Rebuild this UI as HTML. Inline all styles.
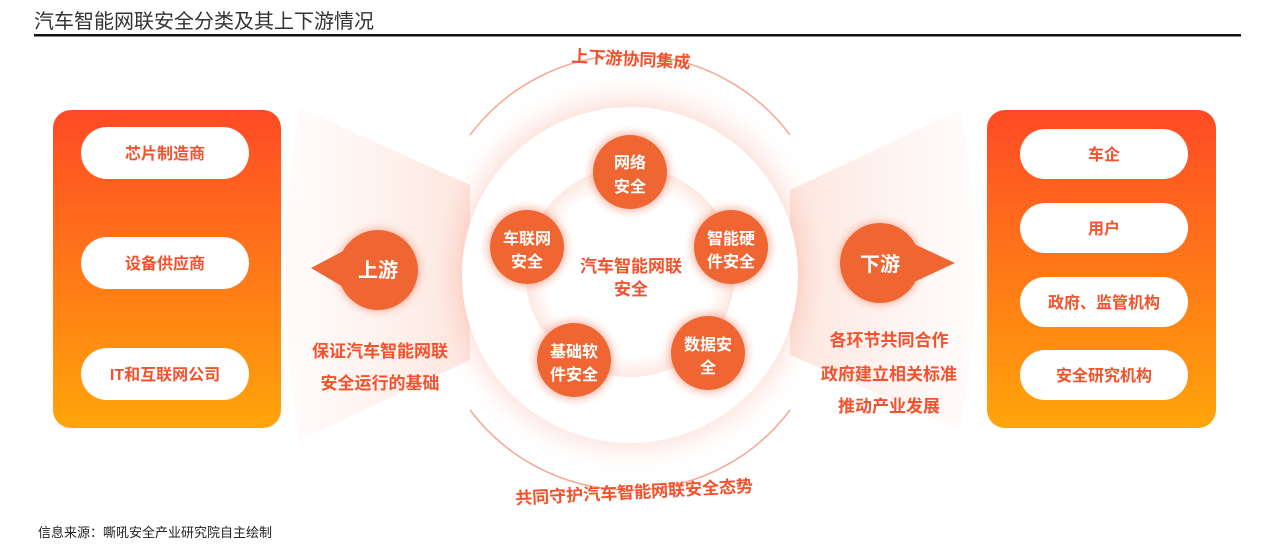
<!DOCTYPE html>
<html><head><meta charset="utf-8"><style>
body{margin:0;background:#fff;width:1267px;height:549px;overflow:hidden;font-family:"Liberation Sans","Noto Sans CJK SC",sans-serif}
</style></head><body>
<svg width="1267" height="549" viewBox="0 0 1267 549" xmlns="http://www.w3.org/2000/svg" font-family="Liberation Sans, Noto Sans CJK SC, sans-serif">
<defs>
<linearGradient id="box" x1="0" y1="0" x2="0" y2="1"><stop offset="0" stop-color="#ff4a26"/><stop offset="1" stop-color="#ffa50a"/></linearGradient>
<radialGradient id="glow" cx="0.5" cy="0.5" r="0.5"><stop offset="0.75" stop-color="#f26a4a" stop-opacity="0.3"/><stop offset="1" stop-color="#fff" stop-opacity="0"/></radialGradient>
<linearGradient id="fanL" x1="1" y1="0" x2="0" y2="0"><stop offset="0" stop-color="#fbd3c6"/><stop offset="1" stop-color="#fff3ef" stop-opacity="0.5"/></linearGradient>
<linearGradient id="fanR" x1="0" y1="0" x2="1" y2="0"><stop offset="0" stop-color="#fbd3c6"/><stop offset="1" stop-color="#fff3ef" stop-opacity="0.5"/></linearGradient>
<radialGradient id="inner" cx="0.5" cy="0.5" r="0.5"><stop offset="0.8" stop-color="#fff"/><stop offset="1" stop-color="#fde6df"/></radialGradient>
<filter id="sh" x="-50%" y="-50%" width="200%" height="200%"><feGaussianBlur stdDeviation="4"/></filter>
</defs>
<text x="34" y="28" font-size="20" fill="#333">汽车智能网联安全分类及其上下游情况</text>
<rect x="34" y="34" width="1207" height="2.5" fill="#111"/>

<path d="M300 108 L470 185 L470 360 L300 440 Q270 274 300 108Z" fill="url(#fanL)" opacity="0.6"/>
<path d="M960 110 L790 190 L790 355 L960 430 Q990 270 960 110Z" fill="url(#fanR)" opacity="0.6"/>

<circle cx="630" cy="273" r="205" fill="url(#glow)"/>
<path d="M470 135 A200 200 0 0 1 790 135" fill="none" stroke="#f26a4a" stroke-width="1.5" stroke-opacity="0.6"/>
<path d="M470 410 A200 200 0 0 0 790 410" fill="none" stroke="#f26a4a" stroke-width="1.5" stroke-opacity="0.6"/>
<circle cx="630" cy="275" r="168" fill="#fff"/>
<circle cx="630" cy="272" r="105" fill="url(#inner)" opacity="0.9"/>

<rect x="53" y="110" width="228" height="318" rx="18" fill="url(#box)"/>
<rect x="987" y="110" width="229" height="318" rx="18" fill="url(#box)"/>
<g fill="#fff">
<rect x="81" y="127" width="168" height="52" rx="26"/>
<rect x="81" y="237" width="168" height="52" rx="26"/>
<rect x="81" y="348" width="168" height="52" rx="26"/>
<rect x="1020" y="129" width="168" height="50" rx="25"/>
<rect x="1020" y="203" width="168" height="50" rx="25"/>
<rect x="1020" y="277" width="168" height="50" rx="25"/>
<rect x="1020" y="350" width="168" height="50" rx="25"/>
</g>
<g fill="#f4512c" font-size="16" font-weight="bold" text-anchor="middle">
<text x="165" y="159">芯片制造商</text>
<text x="165" y="269">设备供应商</text>
<text x="165" y="380">IT和互联网公司</text>
<text x="1104" y="160">车企</text>
<text x="1104" y="234">用户</text>
<text x="1104" y="308">政府、监管机构</text>
<text x="1104" y="381">安全研究机构</text>
</g>

<g fill="#f0522a" opacity="0.35" filter="url(#sh)">
<circle cx="630" cy="172" r="40"/><circle cx="527" cy="247" r="40"/><circle cx="731" cy="247" r="40"/><circle cx="574" cy="360" r="40"/><circle cx="708" cy="353" r="40"/>
<circle cx="378" cy="270" r="42"/><circle cx="880" cy="263" r="42"/>
</g>
<g fill="#f06633">
<circle cx="630" cy="172" r="37"/><circle cx="527" cy="247" r="37"/><circle cx="731" cy="247" r="37"/><circle cx="574" cy="360" r="37"/><circle cx="708" cy="353" r="37"/>
<circle cx="378" cy="270" r="40"/><circle cx="880" cy="263" r="40"/>
<path d="M345 250 L311 268 L345 288Z"/><path d="M912 243 L955 263 L912 283Z"/>
</g>
<g fill="#fff" font-size="16" font-weight="bold" text-anchor="middle">
<text x="630" y="168">网络</text><text x="630" y="192">安全</text>
<text x="527" y="244">车联网</text><text x="527" y="267">安全</text>
<text x="731" y="244">智能硬</text><text x="731" y="267">件安全</text>
<text x="574" y="357">基础软</text><text x="574" y="380">件安全</text>
<text x="708" y="350">数据安</text><text x="708" y="373">全</text>
<text x="378" y="277" font-size="20">上游</text>
<text x="880" y="271" font-size="20">下游</text>
</g>
<g fill="#f4512c" font-size="17" font-weight="bold" text-anchor="middle">
<text x="631" y="272">汽车智能网联</text><text x="631" y="295">安全</text>
<text x="380" y="357">保证汽车智能网联</text><text x="380" y="389">安全运行的基础</text>
<text x="889" y="346">各环节共同合作</text><text x="889" y="380">政府建立相关标准</text><text x="889" y="412">推动产业发展</text>
<text x="631" y="65" transform="rotate(3 631 58)">上下游协同集成</text>
<text x="634" y="498" transform="rotate(-3 634 490)">共同守护汽车智能网联安全态势</text>
</g>
<text x="38" y="537" font-size="13" fill="#222">信息来源：嘶吼安全产业研究院自主绘制</text>
</svg>
</body></html>
